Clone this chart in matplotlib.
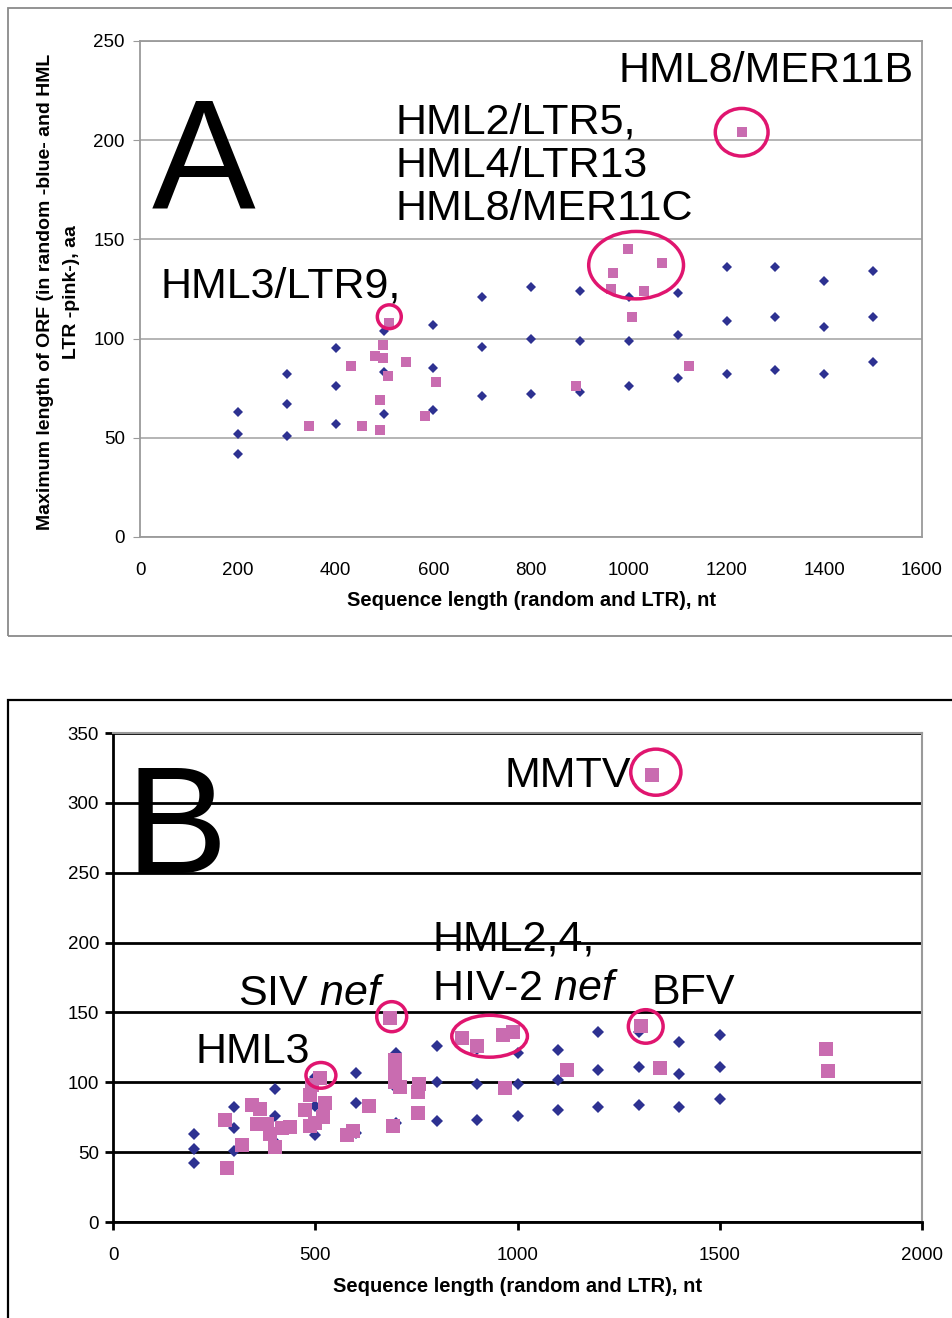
import numpy as np
from matplotlib import pyplot as plt
from matplotlib.patches import Ellipse, Rectangle

plt.rcParams['font.family'] = ['Liberation Sans', 'DejaVu Sans']
plt.rcParams['mathtext.fontset'] = 'custom'
plt.rcParams['mathtext.rm'] = 'Liberation Sans'
plt.rcParams['mathtext.it'] = 'Liberation Sans:italic'

# random sequences (blue), three values per length
rand_len = [200, 300, 400, 500, 600, 700, 800, 900, 1000, 1100, 1200, 1300, 1400, 1500]
rand_hi = [63, 82, 95, 104, 107, 121, 126, 124, 121, 123, 136, 136, 129, 134]
rand_mid = [52, 67, 76, 83, 85, 96, 100, 99, 99, 102, 109, 111, 106, 111]
rand_lo = [42, 51, 57, 62, 64, 71, 72, 73, 76, 80, 82, 84, 82, 88]

# HML LTRs (pink), panel A
ltr_a_len = [345, 431, 455, 481, 492, 492, 498, 498, 508, 510, 545, 583, 606,
             893, 963, 967, 999, 1006, 1031, 1069, 1124, 1231]
ltr_a_orf = [56, 86, 56, 91, 69, 54, 97, 90, 81, 108, 88, 61, 78,
             76, 125, 133, 145, 111, 124, 138, 86, 204]

# LTRs incl. exogenous retroviruses (pink), panel B
ltr_b_len = [277, 283, 320, 343, 363, 357, 380, 388, 400, 417, 438, 475, 487,
             487, 491, 512, 524, 520, 499, 578, 594, 634, 686, 697, 697, 697,
             710, 693, 757, 755, 755, 864, 899, 965, 988, 969, 1122, 1305,
             1352, 1763, 1767, 1332]
ltr_b_orf = [73, 39, 55, 84, 81, 70, 70, 63, 54, 67, 68, 80, 69,
             91, 98, 103, 85, 75, 71, 62, 65, 83, 146, 116, 108, 100,
             97, 69, 99, 93, 78, 132, 126, 134, 136, 96, 109, 140,
             110, 124, 108, 320]

blue = '#2d3191'
pink = '#c96cb0'
ring = '#e0156f'

fig = plt.figure(figsize=(9.52, 13.18), dpi=100)

# panel frames
fig.patches.append(Rectangle((0.0084, 0.5175), 1.0, 0.4765, transform=fig.transFigure,
                             fill=False, edgecolor='#8a8a8a', lw=1.3))
fig.patches.append(Rectangle((0.0084, -0.02), 1.0, 0.4889, transform=fig.transFigure,
                             fill=False, edgecolor='black', lw=1.6))

# ---- panel A
ax = fig.add_axes([0.1471, 0.5926, 0.8214, 0.3763])
for y in (rand_hi, rand_mid, rand_lo):
    ax.plot(rand_len, y, 'D', color=blue, ms=5.0, mew=0, zorder=3)
ax.plot(ltr_a_len, ltr_a_orf, 's', color=pink, ms=7.5, mew=0, zorder=4)
ax.set_xlim(0, 1600)
ax.set_ylim(0, 250)
ax.set_xticks(range(0, 1601, 200))
ax.set_yticks(range(0, 251, 50))
ax.grid(axis='y', color='#a8a8a8', lw=1.2)
ax.set_axisbelow(True)
for s in ax.spines.values():
    s.set_color('#9a9a9a')
    s.set_linewidth(1.3)
ax.tick_params(axis='y', length=5, color='#9a9a9a', labelsize=13.5, pad=6)
ax.tick_params(axis='x', length=0, labelsize=13.5, pad=18)
ax.set_xlabel('Sequence length (random and LTR), nt', fontsize=14.5,
              fontweight='bold', labelpad=9)
fig.text(0.0615, 0.7785, 'Maximum length of ORF (in random -blue- and HML\nLTR -pink-), aa',
         rotation=90, ha='center', va='center', fontsize=14, fontweight='bold',
         multialignment='center', linespacing=1.65)

ax.text(24, 166, 'A', fontsize=112, va='baseline', ha='left')
ax.text(980, 235, 'HML8/MER11B', fontsize=31, va='center')
ax.text(522, 187, 'HML2/LTR5,\nHML4/LTR13\nHML8/MER11C', fontsize=31, va='center',
        linespacing=1.1)
ax.text(41, 126, 'HML3/LTR9,', fontsize=31, va='center')
for cx, cy, w, h in [(510, 111, 49, 12), (1015, 137, 194, 34), (1231, 204, 108, 24)]:
    ax.add_patch(Ellipse((cx, cy), w, h, fill=False, edgecolor=ring, lw=2.5, zorder=5))

# ---- panel B
bx = fig.add_axes([0.1187, 0.0728, 0.8498, 0.3710])
for y in (rand_hi, rand_mid, rand_lo):
    bx.plot(rand_len, y, 'D', color=blue, ms=6.6, mew=0, zorder=3)
bx.plot(ltr_b_len, ltr_b_orf, 's', color=pink, ms=9.4, mew=0, zorder=4)
bx.set_xlim(0, 2000)
bx.set_ylim(0, 350)
bx.set_xticks(range(0, 2001, 500))
bx.set_yticks(range(0, 351, 50))
bx.grid(axis='y', color='black', lw=2)
bx.set_axisbelow(True)
bx.spines['left'].set_linewidth(2)
bx.spines['bottom'].set_linewidth(2)
bx.spines['top'].set_color('#9a9a9a')
bx.spines['top'].set_linewidth(1.5)
bx.spines['right'].set_color('#9a9a9a')
bx.spines['right'].set_linewidth(1.5)
bx.tick_params(axis='y', length=6, width=2, labelsize=13.5, pad=4)
bx.tick_params(axis='x', length=6, width=2, labelsize=13.5, pad=12)
bx.set_xlabel('Sequence length (random and LTR), nt', fontsize=14.5,
              fontweight='bold', labelpad=9)

bx.text(32, 250, 'B', fontsize=110, va='baseline', ha='left')
bx.text(969, 319, 'MMTV', fontsize=31, va='center')
bx.text(789, 202, 'HML2,4,', fontsize=31, va='center')
bx.text(789, 167, r'HIV-2 $\it{nef}$', fontsize=31, va='center')
bx.text(309, 163, r'SIV $\it{nef}$', fontsize=31, va='center')
bx.text(1332, 164, 'BFV', fontsize=31, va='center')
bx.text(205, 122, 'HML3', fontsize=31, va='center')
for cx, cy, w, h in [(1342, 322, 124, 33), (689, 147, 74, 21.5), (514, 105, 74, 18.4),
                     (931, 133, 187, 30), (1317, 140, 86, 24)]:
    bx.add_patch(Ellipse((cx, cy), w, h, fill=False, edgecolor=ring, lw=2.5, zorder=5))

plt.savefig('out.png', dpi=100)
